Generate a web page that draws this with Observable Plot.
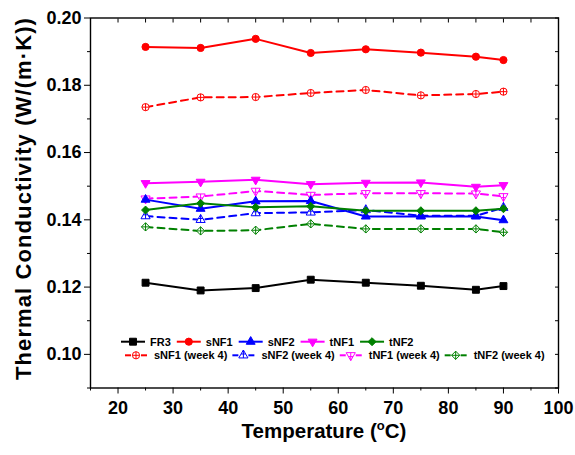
<!DOCTYPE html>
<html>
<head>
<meta charset="utf-8">
<script src="https://cdn.jsdelivr.net/npm/d3@7"></script>
<script src="https://cdn.jsdelivr.net/npm/@observablehq/plot@0.6"></script>
<style>
  html, body { margin: 0; padding: 0; background: #fff; }
  #chart svg { display: block; }
</style>
</head>
<body>
<div id="chart"></div>
<script>
// Measurement temperatures (°C)
const temps = [25, 35, 45, 55, 65, 75, 85, 90];

// Thermal conductivity, W/(m·K)
const fr3    = [0.1213, 0.1190, 0.1197, 0.1222, 0.1213, 0.1204, 0.1192, 0.1203];
const snf1   = [0.1914, 0.1911, 0.1938, 0.1896, 0.1907, 0.1897, 0.1885, 0.1875];
const snf2   = [0.1460, 0.1433, 0.1455, 0.1456, 0.1410, 0.1410, 0.1410, 0.1399];
const tnf1   = [0.1509, 0.1513, 0.1519, 0.1506, 0.1510, 0.1511, 0.1498, 0.1503];
const tnf2   = [0.1429, 0.1449, 0.1437, 0.1440, 0.1427, 0.1427, 0.1427, 0.1433];
const snf1w4 = [0.1735, 0.1764, 0.1765, 0.1777, 0.1786, 0.1770, 0.1774, 0.1781];
const snf2w4 = [0.1411, 0.1400, 0.1420, 0.1422, 0.1429, 0.1412, 0.1412, 0.1436];
const tnf1w4 = [0.1463, 0.1469, 0.1486, 0.1474, 0.1479, 0.1479, 0.1478, 0.1470];
const tnf2w4 = [0.1379, 0.1367, 0.1369, 0.1388, 0.1373, 0.1373, 0.1373, 0.1363];

const seriesNames  = ["FR3", "sNF1", "sNF2", "tNF1", "tNF2",
                      "sNF1 (week 4)", "sNF2 (week 4)", "tNF1 (week 4)", "tNF2 (week 4)"];
const seriesValues = [fr3, snf1, snf2, tnf1, tnf2, snf1w4, snf2w4, tnf1w4, tnf2w4];

// Axis ticks
const xTicks = [20, 30, 40, 50, 60, 70, 80, 90, 100];
const yTicks = [0.10, 0.12, 0.14, 0.16, 0.18, 0.20];

// ---- marker shapes ----
const SQ3 = Math.sqrt(3);
function triPath(ctx, size, down) {
  const y = -Math.sqrt(size / (SQ3 * 3)) * (down ? -1 : 1);
  ctx.moveTo(0, y * 2);
  ctx.lineTo(-SQ3 * y, -y);
  ctx.lineTo(SQ3 * y, -y);
  ctx.closePath();
  return y;
}
const symTriUp   = { draw(ctx, size) { triPath(ctx, size, false); } };
const symTriDown = { draw(ctx, size) { triPath(ctx, size, true); } };
const symRhomb   = { draw(ctx, size) {
  const a = Math.sqrt(size / 2);
  ctx.moveTo(0, -a); ctx.lineTo(a, 0); ctx.lineTo(0, a); ctx.lineTo(-a, 0); ctx.closePath();
} };
const symCirclePlus = { draw(ctx, size) {
  const r = Math.sqrt(size / Math.PI);
  ctx.moveTo(r, 0); ctx.arc(0, 0, r, 0, 2 * Math.PI);
  ctx.moveTo(-r, 0); ctx.lineTo(r, 0); ctx.moveTo(0, -r); ctx.lineTo(0, r);
} };
function triPlus(down) {
  return { draw(ctx, size) {
    const y = triPath(ctx, size, down);
    ctx.moveTo(0, 2 * y); ctx.lineTo(0, -y);
    ctx.moveTo(-SQ3 * y * 0.5, y * 0.5); ctx.lineTo(SQ3 * y * 0.5, y * 0.5);
  } };
}
const symRhombPlus = { draw(ctx, size) {
  const a = Math.sqrt(size / 2);
  ctx.moveTo(0, -a); ctx.lineTo(a, 0); ctx.lineTo(0, a); ctx.lineTo(-a, 0); ctx.closePath();
  ctx.moveTo(-a, 0); ctx.lineTo(a, 0); ctx.moveTo(0, -a); ctx.lineTo(0, a);
} };

// Per-series styling
const styles = {
  "FR3":           { color: "#000000", dash: null,  symbol: "square",       r: 3.9, hollow: false },
  "sNF1":          { color: "#ff0000", dash: null,  symbol: "circle",       r: 3.6, hollow: false },
  "sNF2":          { color: "#0000ff", dash: null,  symbol: symTriUp,       r: 3.3, hollow: false },
  "tNF1":          { color: "#ff00ff", dash: null,  symbol: symTriDown,     r: 3.3, hollow: false },
  "tNF2":          { color: "#008000", dash: null,  symbol: symRhomb,       r: 3.2, hollow: false },
  "sNF1 (week 4)": { color: "#ff0000", dash: "7,5", symbol: symCirclePlus,  r: 3.6, hollow: true },
  "sNF2 (week 4)": { color: "#0000ff", dash: "7,5", symbol: triPlus(false), r: 3.4, hollow: true },
  "tNF1 (week 4)": { color: "#ff00ff", dash: "7,5", symbol: triPlus(true),  r: 3.4, hollow: true },
  "tNF2 (week 4)": { color: "#008000", dash: "7,5", symbol: symRhombPlus,   r: 3.3, hollow: true }
};

// Long-format table
const rows = [];
seriesNames.forEach((name, i) => {
  seriesValues[i].forEach((k, j) => rows.push({ series: name, temp: temps[j], k }));
});

// Week-4 series first so the fresh-sample curves sit on top
const drawOrder = seriesNames.slice(5).concat(seriesNames.slice(0, 5));
const seriesMarks = drawOrder.flatMap(name => {
  const s = styles[name];
  const data = rows.filter(d => d.series === name);
  return [
    Plot.line(data, { x: "temp", y: "k", stroke: s.color, strokeWidth: 2,
                      strokeDasharray: s.dash || undefined }),
    Plot.dot(data, { x: "temp", y: "k", symbol: () => s.symbol, r: s.r,
                     fill: s.hollow ? "white" : s.color, stroke: s.color, strokeWidth: 1 })
  ];
});

const W = 575, H = 455;
const mL = 90, mR = 17, mT = 17.5, mB = 67.5;

const chart = Plot.plot({
  width: W, height: H,
  marginLeft: mL, marginRight: mR, marginTop: mT, marginBottom: mB,
  x: { domain: [15, 100] },
  y: { domain: [0.09, 0.20] },
  symbol: { type: "identity" },
  style: { fontFamily: "'Liberation Sans', Arial, sans-serif", fontWeight: "bold",
           background: "white", color: "black", overflow: "visible" },
  marks: [
    // bottom axis: labelled majors, short minors
    Plot.axisX({ ticks: xTicks, tickSize: 6, tickPadding: 7, fontSize: 18,
                 label: null, tickFormat: d => String(d) }),
    Plot.axisX({ ticks: d3.range(15, 101, 10), tickSize: 3, text: null, label: null }),
    // top edge: inward ticks
    Plot.axisX({ anchor: "top", ticks: d3.range(15, 101, 5), tickSize: 4, dy: 4,
                 text: null, label: null }),
    // left axis
    Plot.axisY({ ticks: yTicks, tickSize: 6, tickPadding: 3, fontSize: 18,
                 tickFormat: d3.format(".2f"), label: null }),
    Plot.axisY({ ticks: [0.09, 0.11, 0.13, 0.15, 0.17, 0.19], tickSize: 3,
                 text: null, label: null }),
    // right edge: inward ticks
    Plot.axisY({ anchor: "right", ticks: d3.range(9, 21).map(v => v / 100), tickSize: 4, dx: -4,
                 text: null, label: null }),
    ...seriesMarks,
    Plot.frame({ stroke: "black", strokeWidth: 1.4 })
  ]
});

document.getElementById("chart").appendChild(chart);

// ---- axis titles ----
const svg = d3.select(chart);
const font = "'Liberation Sans', Arial, sans-serif";
const cx = (mL + W - mR) / 2;

const xt = svg.append("text")
  .attr("x", cx).attr("y", H - 17)
  .attr("text-anchor", "middle")
  .attr("font-family", font).attr("font-weight", "bold").attr("font-size", 20.5)
  .attr("fill", "black");
xt.append("tspan").text("Temperature (");
xt.append("tspan").attr("font-size", 13).attr("dy", -8).text("o");
xt.append("tspan").attr("dy", 8).text("C)");

const yt = svg.append("text")
  .attr("transform", `translate(31,198.5) rotate(-90)`)
  .attr("text-anchor", "middle")
  .attr("font-family", font).attr("font-weight", "bold").attr("font-size", 22)
  .attr("letter-spacing", 1.1)
  .attr("fill", "black");
yt.append("tspan").text("Thermal Conductivity ");
yt.append("tspan").attr("font-weight", 600).text("(W/(m·K))");

// ---- legend (inside the plot, two rows) ----
const legend = svg.append("g")
  .attr("font-family", font).attr("font-weight", "bold").attr("font-size", 11)
  .attr("text-anchor", "start");

function legendRow(names, x0, y, swatchW) {
  let x = x0;
  names.forEach(name => {
    const s = styles[name];
    const g = legend.append("g");
    if (s.dash) {
      g.append("line").attr("x1", x).attr("x2", x + 6).attr("y1", y).attr("y2", y)
        .attr("stroke", s.color).attr("stroke-width", 2);
      g.append("line").attr("x1", x + swatchW - 6).attr("x2", x + swatchW).attr("y1", y).attr("y2", y)
        .attr("stroke", s.color).attr("stroke-width", 2);
    } else {
      g.append("line").attr("x1", x).attr("x2", x + swatchW).attr("y1", y).attr("y2", y)
        .attr("stroke", s.color).attr("stroke-width", 2);
    }
    const type = typeof s.symbol === "string"
      ? (s.symbol === "square" ? d3.symbolSquare : d3.symbolCircle) : s.symbol;
    g.append("path")
      .attr("d", d3.symbol().type(type).size(Math.PI * s.r * s.r)())
      .attr("transform", `translate(${x + swatchW / 2},${y})`)
      .attr("fill", s.hollow ? "white" : s.color).attr("stroke", s.color).attr("stroke-width", 1);
    const tx = x + swatchW + (s.dash ? 7 : 5);
    const t = g.append("text").attr("x", tx).attr("y", y).attr("dy", "0.36em")
      .attr("fill", "black").text(name);
    x = tx + t.node().getComputedTextLength() + (s.dash ? 5 : 6);
  });
}
legendRow(seriesNames.slice(0, 5), 121, 341.7, 24);
legendRow(seriesNames.slice(5), 125, 355.3, 22);
</script>
</body>
</html>
